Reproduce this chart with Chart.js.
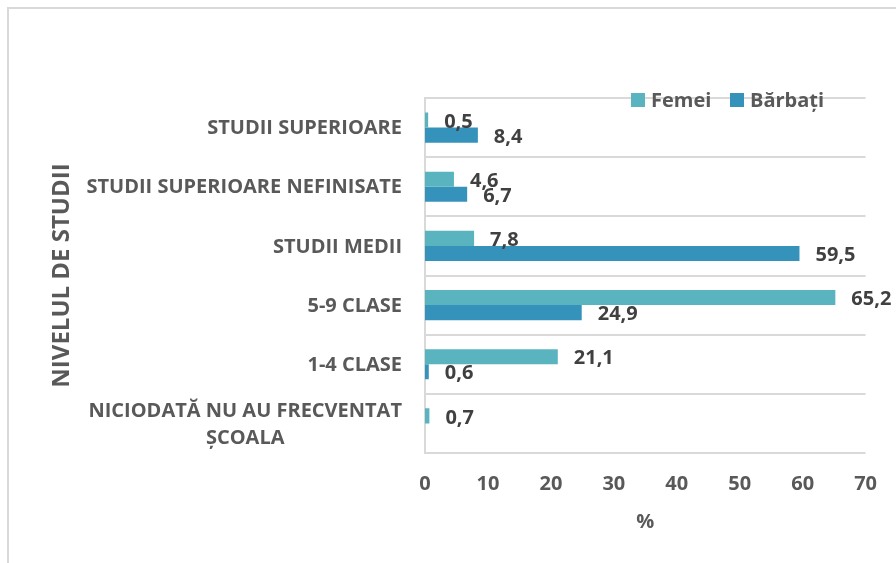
<!DOCTYPE html>
<html>
<head>
<meta charset="utf-8">
<script src="https://cdn.jsdelivr.net/npm/chart.js@4/dist/chart.umd.min.js"></script>
<style>
    html, body { margin: 0; padding: 0; background: #fff; }
    #wrap { position: relative; width: 896px; height: 563px; overflow: hidden; }
    #frame { position: absolute; left: 7px; top: 7px; width: 1000px; height: 700px;
             border-left: 2px solid #d9d9d9; border-top: 2px solid #d9d9d9; }
    canvas { position: absolute; left: 0; top: 0; }
</style>
</head>
<body>
<div id="wrap">
    <div id="frame"></div>
    <canvas id="chart" width="896" height="563"></canvas>
</div>
<script>
const categories = [
    'STUDII SUPERIOARE',
    'STUDII SUPERIOARE NEFINISATE',
    'STUDII MEDII',
    '5-9 CLASE',
    '1-4 CLASE',
    ['NICIODATĂ NU AU FRECVENTAT', 'ȘCOALA']
];
const femei = [0.5, 4.6, 7.8, 65.2, 21.1, 0.7];
const barbati = [8.4, 6.7, 59.5, 24.9, 0.6, null];
const xTicks = [0, 10, 20, 30, 40, 50, 60, 70];

const FONT = '"Open Sans"';
const GREY = '#595959';

// category labels: lines centred on each other, block right-aligned to the axis
const categoryLabels = {
    id: 'categoryLabels',
    afterDraw(chart) {
        const ctx = chart.ctx;
        const y = chart.scales.y;
        ctx.save();
        ctx.font = 'bold 20px ' + FONT;
        ctx.fillStyle = GREY;
        ctx.textAlign = 'center';
        ctx.textBaseline = 'middle';
        const right = y.right - 23;
        chart.data.labels.forEach((label, i) => {
            const lines = Array.isArray(label) ? label : [label];
            const w = Math.max(...lines.map(l => ctx.measureText(l).width));
            const cy = y.getPixelForTick(i);
            const lh = 27;
            lines.forEach((l, k) => {
                ctx.fillText(l, right - w / 2, cy + (k - (lines.length - 1) / 2) * lh + 1);
            });
        });
        ctx.restore();
    }
};

// value labels after the end of each bar
const valueLabels = {
    id: 'valueLabels',
    afterDatasetsDraw(chart) {
        const ctx = chart.ctx;
        ctx.save();
        ctx.font = 'bold 20px ' + FONT;
        ctx.fillStyle = '#404040';
        ctx.textAlign = 'left';
        ctx.textBaseline = 'middle';
        chart.data.datasets.forEach((ds, di) => {
            chart.getDatasetMeta(di).data.forEach((bar, i) => {
                const v = ds.data[i];
                if (v === null || v === undefined) return;
                ctx.fillText(String(v).replace('.', ','), bar.x + 16, bar.y + 2);
            });
        });
        ctx.restore();
    }
};

// legend drawn inside the plot, over the top gridline
const innerLegend = {
    id: 'innerLegend',
    afterDraw(chart) {
        const ctx = chart.ctx;
        ctx.save();
        ctx.font = 'bold 20px ' + FONT;
        ctx.textBaseline = 'middle';
        ctx.textAlign = 'left';
        let x = 631;
        const y = 100;
        chart.data.datasets.forEach(ds => {
            ctx.fillStyle = ds.backgroundColor;
            ctx.fillRect(x, y - 7, 14, 14);
            ctx.fillStyle = GREY;
            ctx.fillText(ds.label, x + 20, y + 1);
            x += 99;
        });
        ctx.restore();
    }
};

new Chart(document.getElementById('chart'), {
    type: 'bar',
    data: {
        labels: categories,
        datasets: [
            { label: 'Femei', data: femei, backgroundColor: '#5AB4C0' },
            { label: 'Bărbați', data: barbati, backgroundColor: '#3593BB' }
        ]
    },
    options: {
        indexAxis: 'y',
        responsive: false,
        animation: false,
        devicePixelRatio: 1,
        categoryPercentage: 0.51,
        barPercentage: 1,
        layout: {
            padding: { left: 0, top: 98, right: 30, bottom: 0 }
        },
        scales: {
            x: {
                min: 0,
                max: 70,
                afterBuildTicks: function(scale) {
                    scale.ticks = xTicks.map(v => ({ value: v }));
                },
                afterFit: function(scale) {
                    scale.height = 110;
                },
                grid: { display: false, drawTicks: false },
                border: { display: false },
                ticks: {
                    padding: 19,
                    color: GREY,
                    font: { family: FONT, size: 20, weight: 'bold' }
                },
                title: {
                    display: true,
                    text: '%',
                    color: GREY,
                    padding: { top: 0, bottom: 29 },
                    font: { family: FONT, size: 20, weight: 'bold' }
                }
            },
            y: {
                afterFit: function(scale) {
                    scale.width = 425;
                },
                grid: {
                    color: '#d9d9d9',
                    lineWidth: 2,
                    drawTicks: false
                },
                border: { color: '#d9d9d9', width: 2 },
                ticks: { display: false },
                title: {
                    display: true,
                    text: 'NIVELUL DE STUDII',
                    color: GREY,
                    padding: { top: 48, bottom: 0 },
                    font: { family: FONT, size: 24, weight: 'bold' }
                }
            }
        },
        plugins: {
            legend: { display: false },
            tooltip: { enabled: false }
        }
    },
    plugins: [categoryLabels, valueLabels, innerLegend]
});
</script>
</body>
</html>
